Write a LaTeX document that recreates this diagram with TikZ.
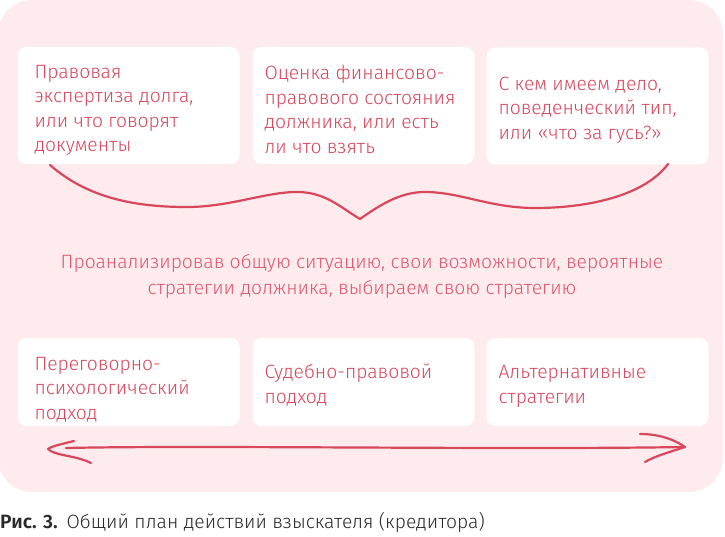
\documentclass[tikz,border=0pt]{standalone}
\usepackage{fontspec}
\setmainfont{Fira Sans}[UprightFont=* Light, BoldFont=* SemiBold]
\definecolor{bgpink}{HTML}{FDEBED}
\definecolor{ink}{HTML}{D8475B}
\definecolor{midink}{HTML}{E0566C}
\definecolor{captc}{HTML}{2A2A2A}
\begin{document}
\begin{tikzpicture}[x=1pt,y=-1pt,
  card/.style={draw=none,fill=white,rounded corners=9pt,minimum width=222pt,inner sep=0pt},
  topcard/.style={card,minimum height=117pt},
  botcard/.style={card,minimum height=88pt},
  cardtext/.style={anchor=west,inner sep=0pt,align=left,text=ink,
    font=\fontsize{19.3}{24.5}\selectfont},
  penline/.style={draw=ink,line width=2.2pt,line cap=round,line join=round}]
\useasboundingbox (0,0) rectangle (725,537);
\fill[bgpink,rounded corners=34pt] (-2,0) rectangle (723,492);

\node[topcard] (t1) at (128.5,105.5) {};
\node[topcard] (t2) at (363.5,105.5) {};
\node[topcard] (t3) at (597.5,106) {};
\node[cardtext] (t1x) at ([xshift=17pt,yshift=-5pt]t1.west) {Правовая\\экспертиза долга,\\или что говорят\\документы};
\node[cardtext] (t2x) at ([xshift=12pt,yshift=-4pt]t2.west) {Оценка финансово-\\правового состояния\\должника, или есть\\ли что взять};
\node[cardtext] (t3x) at ([xshift=12pt,yshift=-4pt]t3.west) {С кем имеем дело,\\поведенческий тип,\\или «что за гусь?»};

\node[text=midink,align=center,font=\fontsize{19.3}{26}\selectfont] (mid) at (362,276)
  {Проанализировав общую ситуацию, свои возможности, вероятные\\стратегии должника, выбираем свою стратегию};

\node[botcard] (b1) at (128.5,382) {};
\node[botcard] (b2) at (363.5,382) {};
\node[botcard] (b3) at (597.5,382) {};
\node[cardtext] (b1x) at ([xshift=17pt,yshift=-7.5pt]b1.west) {Переговорно-\\психологический\\подход};
\node[cardtext] (b2x) at ([xshift=12pt,yshift=-3pt]b2.west) {Судебно-правовой\\подход};
\node[cardtext] (b3x) at ([xshift=12pt,yshift=-4.5pt]b3.west) {Альтернативные\\стратегии};

% brace under the top cards
\coordinate (bl) at (50,165);
\coordinate (bp) at (360,219);
\coordinate (br) at (668,164);
\draw[penline] (bl) .. controls (90,200) and (140,207) .. (187,207)
  .. controls (230,207) and (265,192) .. (297,192)
  .. controls (325,192) and (340,207) .. (bp)
  .. controls (380,205) and (400,192) .. (425,192)
  .. controls (460,192) and (490,208) .. (535,208)
  .. controls (590,208) and (645,195) .. (br);

% hand-drawn double arrow
\coordinate (al) at (48,449);
\coordinate (ar) at (685,447);
\draw[penline] (66,448) .. controls (200,445) and (500,450) .. (ar);
\draw[penline] (74,441) .. controls (62,444) and (52,446) .. (al)
  .. controls (55,456) and (75,455) .. (91,463);
\draw[penline] (640,434) .. controls (660,434) and (675,440) .. (ar)
  .. controls (670,452) and (655,456) .. (645,462);

\node[anchor=base west,inner sep=0pt,text=captc,font=\fontsize{19.3}{22}\selectfont] (cap) at (0,528)
  {\textbf{Рис. 3.}\hspace{9pt}Общий план действий взыскателя (кредитора)};
\end{tikzpicture}
\end{document}
